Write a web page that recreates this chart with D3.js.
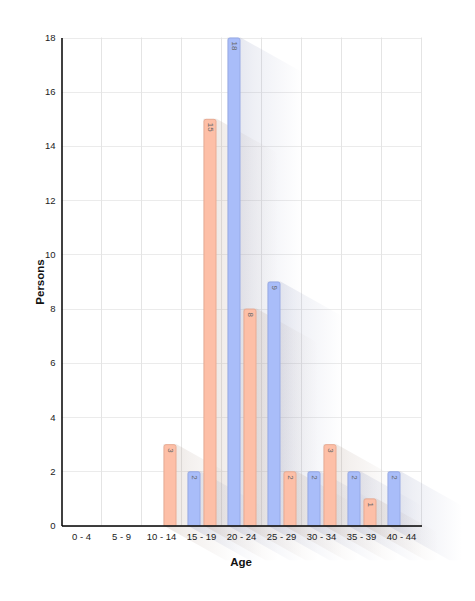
<!DOCTYPE html>
<html><head><meta charset="utf-8">
<script src="https://cdn.jsdelivr.net/npm/d3@7"></script>
<style>body{margin:0;background:#fff}svg{display:block;font-family:"Liberation Sans",Arial,sans-serif}</style>
</head><body><svg id="c" width="475" height="601"></svg>
<script>
const categories = ["0 - 4","5 - 9","10 - 14","15 - 19","20 - 24","25 - 29","30 - 34","35 - 39","40 - 44"];
const seriesNames = ["A","B"];
const seriesA = [0,0,0,2,18,9,2,2,2];
const seriesB = [0,0,3,15,8,2,3,1,0];
const yTicks = [0,2,4,6,8,10,12,14,16,18];

const colors = {A:"#a9bdf9", B:"#fdbfa7"};
const strokes = {A:"#97aae6", B:"#e9ab93"};
const shadowCol = {A:"#8f98bd", B:"#b29d90"};

const svg = d3.select("#c");
const m = {l:61.5, r:421.5, t:37.5, b:525.5};
const x0 = d3.scaleBand().domain(categories).range([m.l, m.r]).padding(0);
const x1 = d3.scaleBand().domain(seriesNames).range([6,35]).paddingInner(3/16).paddingOuter(0);
const y = d3.scaleLinear().domain([0,18]).range([m.b, m.t]);

const defs = svg.append("defs");
seriesNames.forEach(s=>{
  const g = defs.append("linearGradient").attr("id","sh"+s).attr("x1","0").attr("x2","1").attr("y1","0").attr("y2","0");
  g.append("stop").attr("offset","0").attr("stop-color",shadowCol[s]).attr("stop-opacity",0.28);
  g.append("stop").attr("offset","0.35").attr("stop-color",shadowCol[s]).attr("stop-opacity",0.15);
  g.append("stop").attr("offset","1").attr("stop-color",shadowCol[s]).attr("stop-opacity",0);
});

// grid
svg.append("g").selectAll("line").data(yTicks).join("line")
  .attr("x1",m.l).attr("x2",m.r).attr("y1",d=>Math.round(y(d))+0.5).attr("y2",d=>Math.round(y(d))+0.5)
  .attr("stroke","#ebebeb").attr("stroke-width",1);
svg.append("g").selectAll("line").data(categories).join("line")
  .attr("x1",d=>x0(d)+x0.bandwidth()).attr("x2",d=>x0(d)+x0.bandwidth())
  .attr("y1",m.t).attr("y2",m.b).attr("stroke","#e4e4e4");

const data = [];
categories.forEach((c,i)=>{
  data.push({c, s:"A", v:seriesA[i]});
  data.push({c, s:"B", v:seriesB[i]});
});
const bars = data.filter(d=>d.v>0);

// shadows
const L = 62, sl = 0.56;
svg.append("g").selectAll("path").data(bars).join("path")
  .attr("d", d=>{
    const x = x0(d.c)+x1(d.s), w = x1.bandwidth(), t = y(d.v), b = y(0);
    return `M${x},${t}L${x+w},${t}L${x+w+L},${t+L*sl}L${x+w+L},${b+L*sl}L${x+L},${b+L*sl}L${x},${b}Z`;
  })
  .attr("fill", d=>"url(#sh"+d.s+")");

// bars
svg.append("g").selectAll("path").data(bars).join("path")
  .attr("d", d=>{
    const x = x0(d.c)+x1(d.s)+0.5, w = x1.bandwidth()-1, t = y(d.v)+0.5, b = y(0), r = 2;
    return `M${x},${b}L${x},${t+r}Q${x},${t} ${x+r},${t}L${x+w-r},${t}Q${x+w},${t} ${x+w},${t+r}L${x+w},${b}`;
  })
  .attr("fill", d=>colors[d.s]).attr("stroke", d=>strokes[d.s]).attr("stroke-width",1);

// labels
svg.append("g").selectAll("text").data(bars).join("text")
  .attr("transform", d=>`translate(${x0(d.c)+x1(d.s)+x1.bandwidth()/2},${y(d.v)+4}) rotate(90)`)
  .attr("dominant-baseline","middle").attr("text-anchor","start")
  .attr("font-size",8).attr("fill","#666").text(d=>d.v);

// axes
const ya = svg.append("g").attr("transform",`translate(${m.l},0)`)
  .call(d3.axisLeft(y).tickValues(yTicks).tickSize(0).tickPadding(6));
ya.select(".domain").attr("stroke","#000").attr("stroke-width",1.5);
ya.selectAll("text").attr("font-size",9.5).attr("fill","#222").attr("font-family","Liberation Sans, Arial, sans-serif");

const xa = svg.append("g").attr("transform",`translate(0,${m.b})`)
  .call(d3.axisBottom(x0).tickSize(0).tickPadding(8));
xa.select(".domain").attr("stroke","#000").attr("stroke-width",1.5);
xa.selectAll("text").attr("font-size",9.5).attr("fill","#222").attr("font-family","Liberation Sans, Arial, sans-serif");

svg.append("text").attr("x",241).attr("y",566).attr("text-anchor","middle")
  .attr("font-weight","bold").attr("font-size",11.5).attr("fill","#111").text("Age");
svg.append("text").attr("transform","translate(44,282) rotate(-90)").attr("text-anchor","middle")
  .attr("font-weight","bold").attr("font-size",11.5).attr("fill","#111").text("Persons");
</script></body></html>
